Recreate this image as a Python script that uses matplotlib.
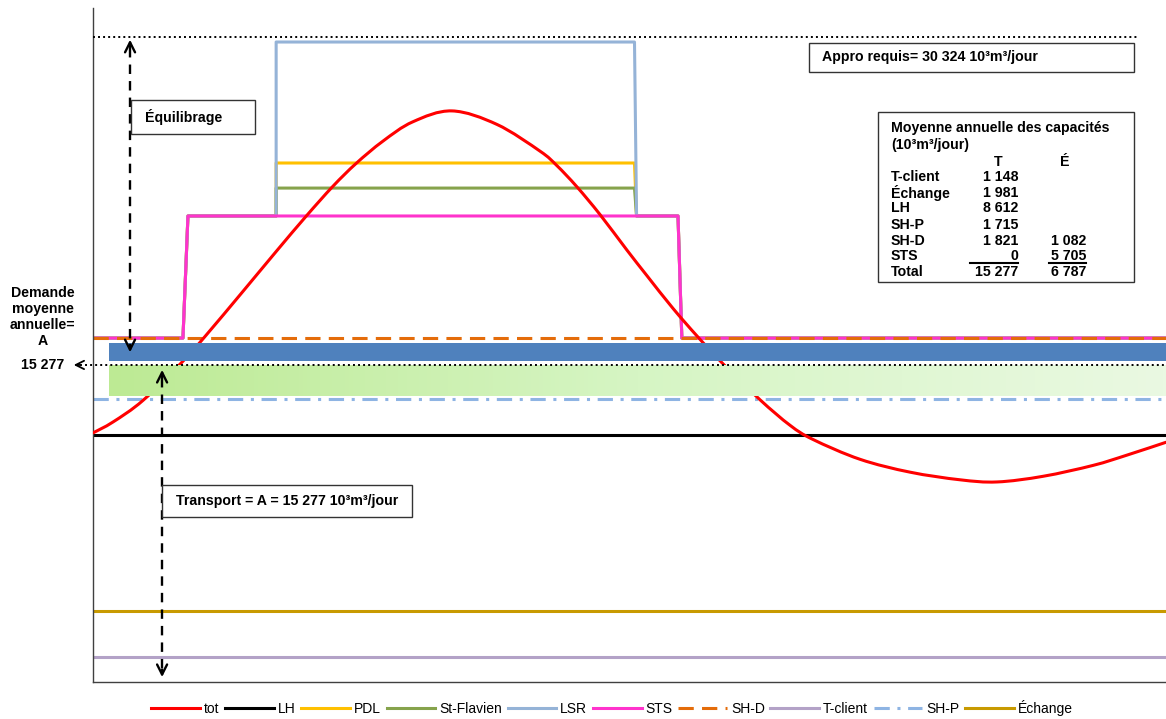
import numpy as np
import matplotlib
matplotlib.use("Agg")
import matplotlib.pyplot as plt
from matplotlib.colors import LinearSegmentedColormap
from matplotlib.patches import Rectangle, PathPatch
from matplotlib.path import Path

plt.rcParams['font.family'] = ['Liberation Sans', 'DejaVu Sans']

# --- Data (days of the year, 10³m³/jour) ---
tot_day = [0, 6.8, 17.0, 30.6, 38.4, 51.0, 62.3, 72.5, 81.6, 89.5, 98.6, 108.8, 122.1,
           137.4, 152.1, 157.8, 164.6, 172.5, 181.6, 188.5, 197.3, 205.5, 214.3, 226.9,
           237.1, 244.9, 260.9, 277.9, 294.9, 307.5, 323.2, 340.2, 351.7, 365]
tot_val = [12160, 12660, 13650, 15450, 16630, 18650, 20480, 22100, 23470, 24520, 25540,
           26430, 26930, 26310, 25080, 24420, 23450, 22170, 20550, 19360, 17870, 16600,
           15330, 13680, 12510, 11860, 10950, 10360, 10010, 9910, 10170, 10670, 11140, 11730]

appro = 30324
A = 15277
lh = 12064
shd = 16510
shp = 13715
echange = 3990
tclient = 1880
sts_top = 22110
lsr_top = 30090
pdl_top = 24540
stf_top = 23390
blue_band = (15458, 16284)
green_band = (13850, 15230)
band_start = 5.3

sts_day = [0, 30.6, 32.3, 199.0, 200.3, 365]
winter_day = [0, 30.6, 32.3, 62.3, 62.3, 184.2, 184.9, 199.0, 200.3, 365]

tbl_names = ["T-client", "Échange", "LH", "SH-P", "SH-D", "STS", "Total"]
tbl_t = ["1 148", "1 981", "8 612", "1 715", "1 821", "0", "15 277"]
tbl_e = ["", "", "", "", "1 082", "5 705", "6 787"]


def winter(top):
    return [shd, shd, sts_top, sts_top, top, top, sts_top, sts_top, shd, shd]


def smooth_path(xs, ys):
    # smoothed line like the spreadsheet one (Catmull-Rom drawn as Bezier curves)
    p = np.column_stack([xs, ys]).astype(float)
    verts = [p[0]]
    codes = [Path.MOVETO]
    n = len(p)
    for i in range(n - 1):
        p0 = p[i - 1] if i > 0 else p[i]
        p3 = p[i + 2] if i + 2 < n else p[i + 1]
        c1 = p[i] + (p[i + 1] - p0) / 6
        c2 = p[i + 1] - (p3 - p[i]) / 6
        verts += [c1, c2, p[i + 1]]
        codes += [Path.CURVE4] * 3
    return Path(verts, codes)


fig = plt.figure(figsize=(11.66, 7.19), dpi=100)
ax = fig.add_axes([93 / 1166, 37 / 719, 1073 / 1166, 674 / 719])
ax.set_xticks([])
ax.set_yticks([])
for s in ["top", "right"]:
    ax.spines[s].set_visible(False)
for s in ["left", "bottom"]:
    ax.spines[s].set_color("#404040")
    ax.spines[s].set_linewidth(1.0)

lw = 2.2
ax.plot([], [], color="#FF0000", lw=lw, label="tot")
ax.add_patch(PathPatch(smooth_path(tot_day, tot_val), fill=False, edgecolor="#FF0000", lw=lw,
                       zorder=2.6, capstyle="round", joinstyle="round"))
ax.plot([0, 365], [lh, lh], color="black", lw=lw, label="LH", zorder=2)
ax.plot(winter_day, winter(pdl_top), color="#FFC000", lw=lw, label="PDL", zorder=2)
ax.plot(winter_day, winter(stf_top), color="#86A34C", lw=lw, label="St-Flavien", zorder=2)
ax.plot(winter_day, winter(lsr_top), color="#95B3D7", lw=lw, label="LSR", zorder=2.1)
ax.plot(sts_day, [shd, shd, sts_top, sts_top, shd, shd], color="#FF33CC", lw=lw,
        label="STS", zorder=2.2)
ax.plot([0, 365], [shd, shd], color="#E46C0A", lw=lw, ls=(0, (5, 2.7)), label="SH-D", zorder=2.3)
ax.plot([0, 365], [tclient, tclient], color="#B3A2C7", lw=lw, label="T-client", zorder=2)
ax.plot([0, 365], [shp, shp], color="#8EB4E3", lw=lw, ls=(0, (5, 2.5, 1, 2.5)), label="SH-P",
        zorder=2)
ax.plot([0, 365], [echange, echange], color="#C89A00", lw=lw, label="Échange", zorder=2)

# bands
ax.fill_between([band_start, 365], blue_band[0], blue_band[1], color="#4F81BD", lw=0, zorder=3)
cmap = LinearSegmentedColormap.from_list("g", ["#BDEA94", "#D6F5C4", "#EAF9E2"])
ax.imshow(np.linspace(0, 1, 256).reshape(1, -1), cmap=cmap, aspect="auto",
          extent=[band_start, 365, green_band[0], green_band[1]], zorder=3)
ax.set_xlim(0, 365)
ax.set_ylim(734, 31650)

# dotted reference lines
dot = (0, (1, 1.6))
ax.plot([0, 355], [appro, appro], color="black", lw=1.4, ls=dot, zorder=4)
ax.plot([-4.5, 365], [A, A], color="black", lw=1.4, ls=dot, zorder=4, clip_on=False)
ax.annotate("", xy=(-7.5, A), xytext=(-3.5, A), annotation_clip=False,
            arrowprops=dict(arrowstyle="->", lw=1.3, color="black", mutation_scale=15))


# double arrows
def double_arrow(x, y_top, y_bot):
    ax.plot([x, x], [y_top - 500, y_bot + 500], color="black", lw=1.7, ls=(0, (4, 3)), zorder=5)
    ax.annotate("", xy=(x, y_top), xytext=(x, y_top - 600),
                arrowprops=dict(arrowstyle="->", lw=1.7, color="black", mutation_scale=18),
                zorder=5)
    ax.annotate("", xy=(x, y_bot), xytext=(x, y_bot + 600),
                arrowprops=dict(arrowstyle="->", lw=1.7, color="black", mutation_scale=18),
                zorder=5)


double_arrow(12.6, appro, 15730)
double_arrow(23.5, 15180, 830)


# text boxes
def box(x0, y0, x1, y1):
    ax.add_patch(Rectangle((x0, y0), x1 - x0, y1 - y0, transform=ax.transAxes,
                           facecolor="white", edgecolor="#333333", lw=1.0, zorder=6))


tkw = dict(transform=ax.transAxes, fontsize=10.2, fontweight="bold", zorder=7)
box(0.0354, 0.8131, 0.151, 0.8635)
ax.text(0.0485, 0.8383, "Équilibrage", ha="left", va="center", **tkw)
box(0.6673, 0.9050, 0.9702, 0.9481)
ax.text(0.6794, 0.9266, "Appro requis= 30 324 10³m³/jour", ha="left", va="center", **tkw)
box(0.0643, 0.2448, 0.2973, 0.2923)
ax.text(0.0774, 0.2685, "Transport = A = 15 277 10³m³/jour", ha="left", va="center", **tkw)

box(0.7316, 0.5935, 0.9702, 0.8457)
ax.text(0.7437, 0.8220, "Moyenne annuelle des capacités", ha="left", va="center", **tkw)
ax.text(0.7437, 0.7967, "(10³m³/jour)", ha="left", va="center", **tkw)
ax.text(0.8434, 0.7715, "T", ha="center", va="center", **tkw)
ax.text(0.9059, 0.7715, "É", ha="center", va="center", **tkw)
row_y = [0.7493, 0.7255, 0.7033, 0.6780, 0.6543, 0.6320, 0.6083]
for yy, name, t, e in zip(row_y, tbl_names, tbl_t, tbl_e):
    ax.text(0.7437, yy, name, ha="left", va="center", **tkw)
    ax.text(0.8621, yy, t, ha="right", va="center", **tkw)
    ax.text(0.9254, yy, e, ha="right", va="center", **tkw)
ax.plot([0.8173, 0.8621], [0.6217, 0.6217], transform=ax.transAxes, color="black", lw=1.5, zorder=7)
ax.plot([0.8910, 0.9254], [0.6217, 0.6217], transform=ax.transAxes, color="black", lw=1.5, zorder=7)

# left labels
ax.text(-0.047, 0.5415, "Demande\nmoyenne\nannuelle=\nA", transform=ax.transAxes,
        ha="center", va="center", fontsize=10.2, fontweight="bold", linespacing=1.2)
ax.text(-0.0465, A, "15 277", transform=ax.get_yaxis_transform(), ha="center", va="center",
        fontsize=10.2, fontweight="bold")

fig.legend(loc="center", bbox_to_anchor=(0.525, 0.0153), ncol=10, frameon=False,
           fontsize=10, handlelength=3.5, handletextpad=0.3, columnspacing=0.4,
           borderaxespad=0)

fig.savefig("out.png", dpi=100)
